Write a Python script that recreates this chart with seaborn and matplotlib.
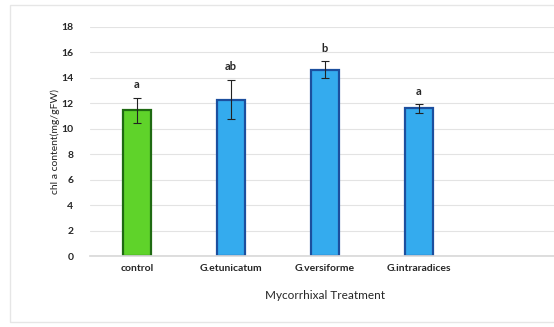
import pandas as pd
import seaborn as sns
import matplotlib.pyplot as plt
from matplotlib.patches import Rectangle

treatments = ['control', 'G.etunicatum', 'G.versiforme', 'G.intraradices']
chl = [11.45, 12.3, 14.65, 11.6]
err = [1.0, 1.55, 0.65, 0.33]
letters = ['a', 'ab', 'b', 'a']
fills = ['#5fd32a', '#34abee', '#34abee', '#34abee']
edges = ['#1f6a12', '#1c4f9e', '#1c4f9e', '#1c4f9e']

sns.set_theme(style='white')
plt.rcParams['font.family'] = ['Lato', 'DejaVu Sans']

df = pd.DataFrame({'treatment': treatments, 'chl': chl})

fig = plt.figure(figsize=(5.54, 3.27), dpi=100)
# light chart border like the spreadsheet frame
fig.patches.append(Rectangle((10/554, 5/327), 560/554, 317/327, transform=fig.transFigure,
                             fill=False, edgecolor='#e6e6e6', lw=1))
ax = fig.add_axes([90/554, 71/327, 470/554, 229/327])

sns.barplot(data=df, x='treatment', y='chl', hue='treatment', palette=fills,
            saturation=1, width=0.3, legend=False, errorbar=None, ax=ax, linewidth=1.6)
for p, ec in zip(ax.patches, edges):
    p.set_edgecolor(ec)

xs = range(len(treatments))
ax.errorbar(xs, chl, yerr=err, fmt='none', ecolor='#222222', elinewidth=0.8,
            capsize=3, capthick=0.8)
for x, v, e, t in zip(xs, chl, err, letters):
    ax.text(x, v + e + 0.6, t, ha='center', va='bottom', fontsize=8, fontweight='bold')

ax.set_xlim(-0.5, 4.5)
ax.set_ylim(0, 18)
ax.set_yticks(range(0, 19, 2))
ax.yaxis.grid(True, color='#e3e3e3', lw=0.8)
ax.set_axisbelow(True)
for s in ['top', 'right', 'left']:
    ax.spines[s].set_visible(False)
ax.spines['bottom'].set_color('#d9d9d9')
ax.tick_params(axis='both', length=0, labelsize=7.5, pad=6)
for lab in ax.get_xticklabels() + ax.get_yticklabels():
    lab.set_fontweight('bold')
ax.tick_params(axis='y', pad=12)
ax.set_xlabel('Mycorrhixal Treatment', fontsize=8.5, labelpad=12)
ax.set_ylabel('chl a content(mg/gFW)', fontsize=7.5, labelpad=1)

plt.savefig('out.png', dpi=100)
